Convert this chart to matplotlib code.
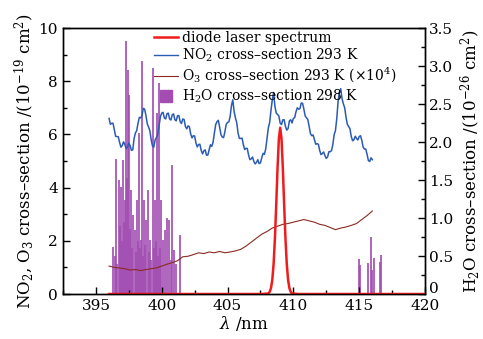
import matplotlib
matplotlib.use("Agg")
import matplotlib.pyplot as plt
from matplotlib.lines import Line2D
from matplotlib.ticker import MultipleLocator, FuncFormatter
from matplotlib.transforms import offset_copy

plt.rcParams['font.family'] = ['DejaVu Serif']
plt.rcParams['mathtext.fontset'] = 'dejavuserif'

# ---------------- data ----------------
laser_wl = [396.0, 407.6, 408.1, 408.2, 408.3, 408.4, 408.5, 408.6, 408.7, 408.8, 408.9,
            409.0, 409.1, 409.2, 409.3, 409.4, 409.5, 409.6, 409.7, 409.8, 409.9, 410.4, 420.0]
laser_val = [0.0, 0.0, 0.02, 0.08, 0.22, 0.53, 1.13, 2.09, 3.37, 4.75, 5.84,
             6.25, 5.84, 4.75, 3.37, 2.09, 1.13, 0.53, 0.22, 0.08, 0.02, 0.0, 0.0]

no2_wl = [396.0, 396.1, 396.2, 396.3, 396.4, 396.5, 396.6, 396.7, 396.8, 396.9,
          397.0, 397.1, 397.2, 397.3, 397.4, 397.5, 397.6, 397.7, 397.8, 397.9,
          398.0, 398.1, 398.2, 398.3, 398.4, 398.5, 398.6, 398.7, 398.8, 398.9,
          399.0, 399.1, 399.2, 399.3, 399.4, 399.5, 399.6, 399.7, 399.8, 399.9,
          400.0, 400.1, 400.2, 400.3, 400.4, 400.5, 400.6, 400.7, 400.8, 400.9,
          401.0, 401.1, 401.2, 401.3, 401.4, 401.5, 401.6, 401.7, 401.8, 401.9,
          402.0, 402.1, 402.2, 402.3, 402.4, 402.5, 402.6, 402.7, 402.8, 402.9,
          403.0, 403.1, 403.2, 403.3, 403.4, 403.5, 403.6, 403.7, 403.8, 403.9,
          404.0, 404.1, 404.2, 404.3, 404.4, 404.5, 404.6, 404.7, 404.8, 404.9,
          405.0, 405.1, 405.2, 405.3, 405.4, 405.5, 405.6, 405.7, 405.8, 405.9,
          406.0, 406.1, 406.2, 406.3, 406.4, 406.5, 406.6, 406.7, 406.8, 406.9,
          407.0, 407.1, 407.2, 407.3, 407.4, 407.5, 407.6, 407.7, 407.8, 407.9,
          408.0, 408.1, 408.2, 408.3, 408.4, 408.5, 408.6, 408.7, 408.8, 408.9,
          409.0, 409.1, 409.2, 409.3, 409.4, 409.5, 409.6, 409.7, 409.8, 409.9,
          410.0, 410.1, 410.2, 410.3, 410.4, 410.5, 410.6, 410.7, 410.8, 410.9,
          411.0, 411.1, 411.2, 411.3, 411.4, 411.5, 411.6, 411.7, 411.8, 411.9,
          412.0, 412.1, 412.2, 412.3, 412.4, 412.5, 412.6, 412.7, 412.8, 412.9,
          413.0, 413.1, 413.2, 413.3, 413.4, 413.5, 413.6, 413.7, 413.8, 413.9,
          414.0, 414.1, 414.2, 414.3, 414.4, 414.5, 414.6, 414.7, 414.8, 414.9,
          415.0, 415.1, 415.2, 415.3, 415.4, 415.5, 415.6, 415.7, 415.8, 415.9, 416.0]
no2_val = [6.60, 6.38, 6.42, 6.42, 6.18, 5.93, 5.92, 5.91, 5.70, 5.52,
           5.58, 5.72, 5.62, 5.47, 5.52, 5.67, 5.58, 5.40, 5.42, 5.84,
           6.05, 6.14, 6.42, 6.64, 6.62, 6.70, 6.98, 6.95, 6.72, 6.40,
           6.28, 6.14, 5.80, 5.56, 5.52, 5.80, 5.88, 6.00, 6.32, 6.66,
           6.80, 6.83, 6.62, 6.58, 6.78, 6.80, 6.58, 6.54, 6.74, 6.77,
           6.55, 6.51, 6.70, 6.71, 6.48, 6.41, 6.58, 6.56, 6.30, 6.21,
           6.32, 6.29, 6.02, 5.87, 5.95, 5.94, 5.68, 5.53, 5.62, 5.63,
           5.40, 5.27, 5.38, 5.42, 5.22, 5.22, 5.42, 5.61, 5.55, 5.70,
           6.05, 6.37, 6.48, 6.53, 6.28, 5.99, 5.90, 5.88, 6.10, 6.38,
           6.45, 6.47, 6.68, 7.09, 7.30, 6.86, 6.62, 6.44, 6.05, 5.85,
           5.85, 5.86, 5.62, 5.43, 5.48, 5.47, 5.22, 5.05, 5.08, 5.15,
           4.98, 4.89, 4.95, 5.05, 4.90, 4.93, 5.12, 5.29, 5.25, 5.45,
           5.85, 6.25, 6.45, 6.90, 7.30, 7.58, 7.05, 6.80, 6.75, 6.69,
           6.42, 6.37, 6.55, 6.55, 6.30, 6.16, 6.22, 6.51, 6.55, 6.43,
           6.60, 6.63, 6.85, 7.00, 6.95, 6.97, 7.18, 7.17, 6.95, 6.69,
           6.62, 6.56, 6.30, 6.03, 5.95, 5.98, 5.80, 5.63, 5.65, 5.63,
           5.40, 5.24, 5.28, 5.34, 5.20, 5.10, 5.15, 5.35, 5.35, 5.39,
           5.62, 5.99, 6.15, 6.60, 7.25, 7.59, 7.72, 7.34, 7.15, 7.00,
           6.65, 6.38, 6.30, 6.21, 5.92, 5.76, 5.80, 5.93, 5.85, 5.79,
           5.92, 5.95, 5.78, 5.52, 5.45, 5.45, 5.25, 5.02, 4.98, 5.12, 5.05]

o3_wl = [396.0, 396.4, 396.8, 397.2, 397.6, 398.0, 398.4, 398.8, 399.2, 399.6,
         400.0, 400.4, 400.8, 401.2, 401.6, 402.0, 402.4, 402.8, 403.2, 403.6,
         404.0, 404.4, 404.8, 405.2, 405.6, 406.0, 406.4, 406.8, 407.2, 407.6,
         408.0, 408.4, 408.8, 409.2, 409.6, 410.0, 410.4, 410.8, 411.2, 411.6,
         412.0, 412.4, 412.8, 413.2, 413.6, 414.0, 414.4, 414.8, 415.2, 415.6, 416.0]
o3_val = [1.05, 1.00, 0.98, 0.95, 0.90, 0.92, 0.88, 0.92, 0.95, 0.98,
          1.05, 1.12, 1.18, 1.25, 1.40, 1.42, 1.48, 1.55, 1.52, 1.58,
          1.55, 1.60, 1.55, 1.58, 1.62, 1.68, 1.80, 1.95, 2.10, 2.25,
          2.35, 2.48, 2.55, 2.62, 2.65, 2.70, 2.75, 2.80, 2.75, 2.70,
          2.62, 2.58, 2.50, 2.42, 2.48, 2.52, 2.58, 2.65, 2.80, 2.95, 3.12]

h2o_wl = [396.30, 396.45, 396.53, 396.62, 396.76, 396.85, 396.91, 396.98, 397.06, 397.14,
          397.21, 397.29, 397.36, 397.44, 397.52, 397.60, 397.67, 397.75, 397.82, 397.97,
          398.05, 398.12, 398.20, 398.28, 398.36, 398.43, 398.50, 398.58, 398.65, 398.73,
          398.81, 398.96, 399.04, 399.11, 399.20, 399.34, 399.42, 399.49, 399.57, 399.64,
          399.72, 399.79, 399.87, 399.95, 400.10, 400.25, 400.40, 400.55, 400.70, 400.78,
          400.93, 401.10, 401.39,
          415.00, 415.07, 415.68, 415.90, 415.98, 416.13, 416.59, 416.66]
h2o_val = [0.62, 0.50, 1.78, 0.40, 1.50, 0.90, 1.41, 0.70, 1.76, 0.95,
           1.24, 3.33, 1.53, 2.95, 2.62, 0.85, 1.37, 0.60, 1.04, 0.84,
           0.55, 1.24, 0.70, 2.12, 0.60, 0.71, 3.07, 0.50, 1.24, 0.65,
           0.97, 1.37, 0.55, 0.71, 0.45, 2.97, 0.60, 1.24, 0.70, 2.38,
           0.50, 2.78, 0.60, 1.24, 0.71, 0.84, 1.00, 0.97, 0.45, 1.70,
           0.58, 0.40, 0.78,
           0.46, 0.38, 0.41, 0.75, 0.32, 0.47, 0.42, 0.51]

labels = ["diode laser spectrum",
          "NO$_2$ cross\u2013section 293 K",
          "O$_3$ cross\u2013section 293 K (\u00d710$^4$)",
          "H$_2$O cross\u2013section 298 K"]

c_red = '#ee1c1c'
c_blue = '#2a5bb5'
c_brown = '#8a2a22'
c_purple = '#a34db3'

# ---------------- figure ----------------
fig = plt.figure(figsize=(4.83, 3.39), dpi=100)
ax = fig.add_axes([0.1304, 0.1327, 0.7495, 0.7847])
ax2 = ax.twinx()
ax.set_zorder(ax2.get_zorder() + 1)
ax.patch.set_visible(False)

ax2.bar(h2o_wl, h2o_val, width=0.12, color=c_purple, alpha=0.85, linewidth=0)
ax.plot(no2_wl, no2_val, color=c_blue, lw=1.1)
ax.plot(o3_wl, o3_val, color=c_brown, lw=0.8)
ax.plot(laser_wl, laser_val, color=c_red, lw=1.8)

ax.set_xlim(392.5, 420)
ax.set_ylim(0, 10)
ax2.set_ylim(0, 3.5)

ax.xaxis.set_major_locator(MultipleLocator(5))
ax.xaxis.set_minor_locator(MultipleLocator(2.5))
ax.yaxis.set_major_locator(MultipleLocator(2))
ax.yaxis.set_minor_locator(MultipleLocator(1))
ax2.yaxis.set_major_locator(MultipleLocator(0.5))
ax2.yaxis.set_minor_locator(MultipleLocator(0.25))

ax.tick_params(axis='both', which='both', direction='in', top=False, right=False,
               labelsize=11, width=1.0)
ax.tick_params(which='major', length=5)
ax.tick_params(which='minor', length=3)
ax2.tick_params(axis='y', which='both', direction='in', labelsize=11, width=1.0, pad=3)
ax2.tick_params(which='major', length=5)
ax2.tick_params(which='minor', length=3)
ax2.yaxis.set_major_formatter(FuncFormatter(
    lambda v, p: '0' if abs(v) < 1e-9 else f'{v:.1f}'))

for sp in list(ax.spines.values()) + list(ax2.spines.values()):
    sp.set_linewidth(1.0)

ax.set_xlabel(r'$\lambda$ /nm', fontsize=12, labelpad=1)
ax.set_ylabel('NO$_2$, O$_3$ cross\u2013section /(10$^{-19}$ cm$^2$)', fontsize=12, labelpad=2)
ax2.set_ylabel('H$_2$O cross\u2013section /(10$^{-26}$ cm$^2$)', fontsize=12, labelpad=4)

handles = [Line2D([], [], color=c_red, lw=1.8),
           Line2D([], [], color=c_blue, lw=1.0),
           Line2D([], [], color=c_brown, lw=0.8),
           Line2D([], [], marker='s', linestyle='none', markersize=9, color=c_purple)]
ax.legend(handles, labels, loc='upper left', bbox_to_anchor=(0.245, 1.0),
          frameon=False, fontsize=10, handlelength=1.7, handletextpad=0.3,
          labelspacing=0.15, borderpad=0.2, borderaxespad=0)

fig.canvas.draw()
for tk in ax2.yaxis.get_major_ticks():
    if abs(tk.get_loc()) < 1e-9:
        tk.label2.set_transform(offset_copy(tk.label2.get_transform(), fig=fig,
                                            x=0, y=7, units='dots'))

fig.savefig('out.png', dpi=100)
